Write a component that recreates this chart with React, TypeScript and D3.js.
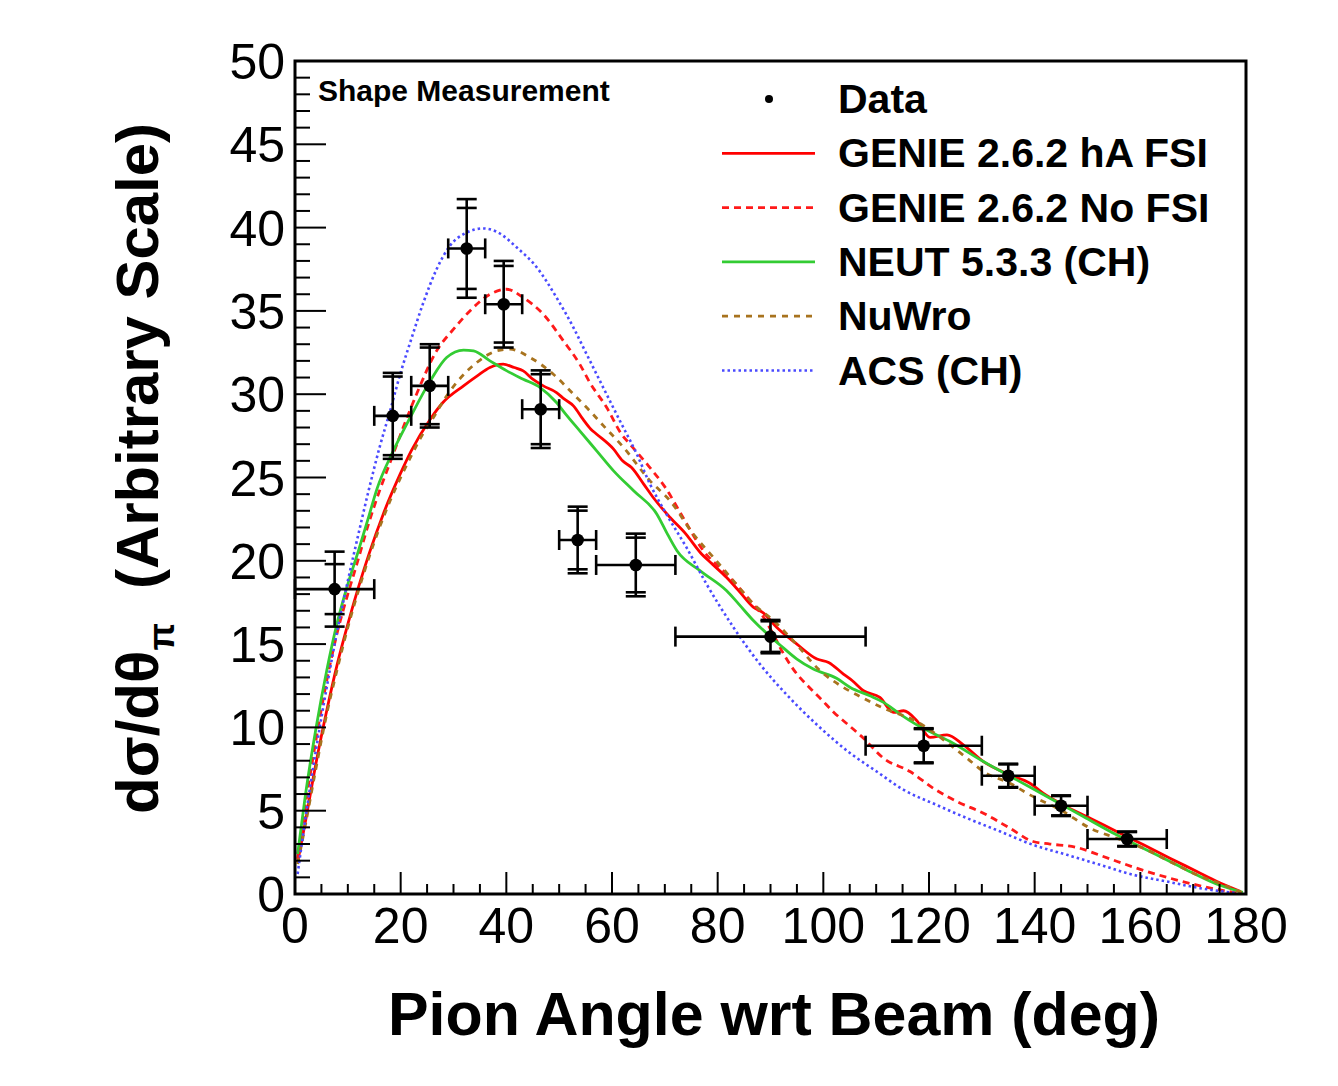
import React from "react";
import * as d3 from "d3";

// Measured pion angle distribution (shape only) with stat and total errors
const binLow = [0, 15, 22, 29, 36, 43, 50, 57, 72, 108, 130, 140, 150];
const binHigh = [15, 22, 29, 36, 43, 50, 57, 72, 108, 130, 140, 150, 165];
const binCenter = [7.5, 18.5, 25.5, 32.5, 39.5, 46.5, 53.5, 64.5, 90, 119, 135, 145, 157.5];
const dataValue = [18.3, 28.7, 30.5, 38.75, 35.4, 29.1, 21.25, 19.75, 15.45, 8.9, 7.1, 5.3, 3.3];
const statErr = [1.5, 2.36, 2.3, 2.43, 2.3, 2.1, 1.76, 1.64, 0.92, 1.0, 0.68, 0.58, 0.42];
const totalErr = [2.25, 2.58, 2.5, 2.96, 2.6, 2.33, 2.0, 1.88, 1.0, 1.05, 0.72, 0.62, 0.45];

// Generator predictions: [angle (deg), dσ/dθ]
const genieHA: [number, number][] = [
  [0.5, 1.9], [2, 4.4], [4, 7.9], [6, 11.0], [8, 13.8], [10, 16.2], [12, 18.4], [14, 20.4],
  [16.7, 22.8], [19.9, 25.2], [22, 26.6], [25.6, 28.5], [28, 29.5], [31.9, 30.5], [34.5, 31.1],
  [36.9, 31.6], [39.4, 31.8], [41.5, 31.6], [43.2, 31.4], [45, 30.9], [47, 30.5], [49.5, 30.1],
  [51, 29.7], [52.7, 29.3], [54.5, 28.5], [56, 27.9], [57.1, 27.6], [60.3, 26.7], [62, 26.0],
  [63.7, 25.6], [66, 24.6], [67.8, 23.8], [71, 22.6], [74, 21.6], [76.7, 20.5], [79, 19.8],
  [81.7, 19.0], [84, 18.2], [86.8, 17.2], [88.5, 16.9], [91.2, 16.0], [95, 15.0], [98.8, 14.1],
  [101, 13.9], [103.8, 13.2], [105.5, 12.8], [107.6, 12.2], [110.7, 11.8], [113.3, 10.9],
  [115.2, 11.0], [117.7, 10.4], [120.2, 9.4], [123.4, 9.55], [126.5, 8.95], [130.3, 7.95],
  [135.3, 7.15], [139.1, 6.65], [141.6, 6.05], [145.4, 5.35], [150.5, 4.55], [155.5, 3.75],
  [160.6, 2.95], [165.6, 2.15], [170.7, 1.35], [174.5, 0.75], [179, 0.15],
];

const genieNoFSI: [number, number][] = [
  [0.5, 2.1], [2, 5.4], [4, 9.3], [6, 12.8], [8, 15.7], [10, 18.0], [11.7, 19.8], [14, 22.3],
  [16, 24.2], [18, 25.9], [20, 27.6], [23, 30.0], [26.8, 32.6], [30, 33.9], [33.1, 35.0],
  [36.9, 36.0], [40.1, 36.3], [43.2, 35.8], [47, 34.8], [50.8, 33.2], [53.9, 31.8], [55.8, 30.7],
  [59, 29.2], [61.8, 27.6], [63.4, 27.0], [66.9, 25.7], [70.3, 24.3], [72.9, 22.9], [77.3, 20.6],
  [81.7, 19.2], [86.2, 17.6], [88.5, 16.7], [90.5, 15.6], [92.5, 14.4], [94.3, 13.5],
  [97.5, 12.35], [99.4, 11.75], [102, 10.9], [105.1, 10.05], [107.6, 9.35], [111.4, 8.15],
  [116.4, 7.35], [120.8, 6.35], [125.3, 5.55], [130.3, 4.85], [135.3, 3.95], [139.7, 3.15],
  [142.9, 3.0], [147.9, 2.8], [153, 2.25], [159.3, 1.55], [165.6, 0.95], [171.9, 0.45],
  [178.5, 0.05],
];

const neut: [number, number][] = [
  [0.5, 2.4], [2, 6.0], [4, 10.0], [6, 13.4], [8, 16.3], [10, 18.6], [12, 20.6], [14, 22.7],
  [15.5, 24.3], [18.6, 26.6], [21.8, 28.6], [25.6, 30.8], [28.7, 32.2], [31.9, 32.65],
  [33.8, 32.6], [36.9, 32.0], [40.1, 31.4], [43.2, 30.9], [46.4, 30.4], [49.5, 29.5], [51, 28.9],
  [53.9, 27.8], [57.1, 26.6], [60.3, 25.4], [64.1, 24.2], [68.5, 22.8], [70.5, 21.6],
  [72.3, 20.6], [76.7, 19.4], [81.7, 18.2], [84, 17.4], [86.8, 16.4], [91.8, 14.95], [95, 14.1],
  [98.1, 13.5], [102.5, 12.95], [105.1, 12.4], [108.8, 11.9], [111.4, 11.5], [114.5, 10.8],
  [117.7, 10.15], [124, 9.15], [130.3, 7.95], [136.6, 6.85], [142.9, 5.75], [149.2, 4.65],
  [155.5, 3.55], [161.8, 2.55], [168.1, 1.55], [174.4, 0.6], [179.4, 0.1],
];

const nuwro: [number, number][] = [
  [0.5, 1.8], [2, 4.2], [4, 7.6], [6, 10.8], [8, 13.5], [10, 16.0], [12, 18.2], [14, 20.2],
  [16, 22.0], [18, 23.6], [20, 25.0], [22, 26.3], [24, 27.5], [26.2, 28.6], [28.5, 29.8],
  [30.6, 30.7], [34.4, 31.9], [38.2, 32.6], [40.7, 32.7], [44.5, 32.2], [48.9, 31.2],
  [52.7, 30.0], [55.8, 29.0], [58.4, 28.1], [62.2, 26.8], [67.2, 24.8], [71, 23.6], [75.4, 21.6],
  [79.2, 20.2], [83, 18.8], [86.8, 17.4], [90.6, 16.4], [94.3, 15.2], [99.4, 13.4],
  [103.8, 12.4], [107, 11.85], [111.4, 11.15], [117.7, 10.35], [124, 8.95], [127.2, 8.15],
  [130.3, 7.35], [135.3, 6.65], [139.1, 5.95], [145.4, 4.95], [150.5, 3.95], [155.5, 3.35],
  [160.6, 2.75], [165.6, 1.95], [170.7, 1.15], [175.7, 0.55], [179.4, 0.05],
];

const acs: [number, number][] = [
  [0.5, 1.2], [2, 4.6], [4, 8.7], [6, 12.4], [8, 15.8], [10, 18.8], [12, 21.6], [14, 24.3],
  [16, 26.8], [18, 29.0], [20, 31.3], [22, 33.3], [24.3, 35.5], [26.8, 37.5], [29.3, 38.9],
  [32.5, 39.7], [35.6, 39.95], [38.2, 39.75], [42, 38.8], [45.8, 37.6], [49.5, 35.8],
  [52.7, 34.0], [55.2, 32.4], [59.6, 29.6], [61.5, 28.4], [64.7, 26.4], [67.2, 24.6],
  [70.3, 22.8], [74.1, 20.8], [77.9, 18.6], [83, 16.0], [88, 13.8], [93.1, 11.95], [99, 10.1],
  [105.1, 8.45], [110.1, 7.35], [115.2, 6.25], [121.4, 5.35], [127.2, 4.55], [133.5, 3.75],
  [139.7, 2.95], [146.1, 2.35], [152.4, 1.75], [158.7, 1.15], [165, 0.75], [171.3, 0.35],
  [178.2, 0.05],
];

const xTicks = [0, 20, 40, 60, 80, 100, 120, 140, 160, 180];
const yTicks = [0, 5, 10, 15, 20, 25, 30, 35, 40, 45, 50];

const legendLabels = [
  "Data",
  "GENIE 2.6.2 hA FSI",
  "GENIE 2.6.2 No FSI",
  "NEUT 5.3.3 (CH)",
  "NuWro",
  "ACS (CH)",
];

const FONT = "'Liberation Sans', Arial, Helvetica, sans-serif";

const W = 1338;
const H = 1086;
const left = 295;
const right = 1246;
const top = 61;
const bottom = 894;

export default function App() {
  const x = d3.scaleLinear().domain([0, 180]).range([left, right]);
  const y = d3.scaleLinear().domain([0, 50]).range([bottom, top]);

  const line = d3
    .line<[number, number]>()
    .x((d) => x(d[0]))
    .y((d) => y(d[1]))
    .curve(d3.curveMonotoneX);

  const series = [
    { pts: genieHA, color: "#ff0000", dash: undefined as string | undefined, width: 2.8 },
    { pts: genieNoFSI, color: "#ff1a1a", dash: "7 5", width: 2.8 },
    { pts: neut, color: "#33cc33", dash: undefined, width: 2.8 },
    { pts: nuwro, color: "#a8731e", dash: "6 6", width: 2.8 },
    { pts: acs, color: "#4a4aff", dash: "2.5 3", width: 2.6 },
  ];

  const xMinor = d3.range(0, 181, 5).filter((v) => v % 20 !== 0);
  const yMinor = d3.range(0, 51, 1).filter((v) => v % 5 !== 0);

  const capHalf = 10;
  const legendRowY = (i: number) => 113 + i * 54.3;

  return (
    <svg
      width={W}
      height={H}
      style={{ position: "absolute", left: 0, top: 0, background: "#fff" }}
      fontFamily={FONT}
    >
      <rect x={0} y={0} width={W} height={H} fill="#fff" />

      {/* model curves */}
      <g fill="none">
        {series.map((s, i) => (
          <path
            key={i}
            d={line(s.pts) || ""}
            stroke={s.color}
            strokeWidth={s.width}
            strokeDasharray={s.dash}
          />
        ))}
      </g>

      {/* data points with error bars */}
      <g stroke="#000" strokeWidth={2.6}>
        {dataValue.map((v, i) => {
          const cx = x(binCenter[i]);
          const cy = y(v);
          const xl = x(binLow[i]);
          const xh = x(binHigh[i]);
          return (
            <g key={i}>
              <line x1={xl} x2={xh} y1={cy} y2={cy} />
              <line x1={xl} x2={xl} y1={cy - capHalf} y2={cy + capHalf} />
              <line x1={xh} x2={xh} y1={cy - capHalf} y2={cy + capHalf} />
              <line x1={cx} x2={cx} y1={y(v + totalErr[i])} y2={y(v - totalErr[i])} />
              {[v + statErr[i], v - statErr[i], v + totalErr[i], v - totalErr[i]].map((e, k) => (
                <line key={k} x1={cx - capHalf} x2={cx + capHalf} y1={y(e)} y2={y(e)} />
              ))}
              <circle cx={cx} cy={cy} r={6.3} fill="#000" stroke="none" />
            </g>
          );
        })}
      </g>

      {/* ticks */}
      <g stroke="#000" strokeWidth={2}>
        {xTicks.map((t) => (
          <line key={"xM" + t} x1={x(t)} x2={x(t)} y1={bottom} y2={bottom - 22} />
        ))}
        {xMinor.map((t) => (
          <line key={"xm" + t} x1={x(t)} x2={x(t)} y1={bottom} y2={bottom - 10} />
        ))}
        {yTicks.map((t) => (
          <line key={"yM" + t} x1={left} x2={left + 31} y1={y(t)} y2={y(t)} />
        ))}
        {yMinor.map((t) => (
          <line key={"ym" + t} x1={left} x2={left + 15} y1={y(t)} y2={y(t)} />
        ))}
      </g>

      {/* frame */}
      <rect
        x={left}
        y={top}
        width={right - left}
        height={bottom - top}
        fill="none"
        stroke="#000"
        strokeWidth={3}
      />

      {/* tick labels */}
      <g fontSize={50} fill="#000">
        {xTicks.map((t) => (
          <text key={"xl" + t} x={x(t)} y={943} textAnchor="middle">
            {t}
          </text>
        ))}
        {yTicks.map((t) => (
          <text key={"yl" + t} x={285} y={y(t) + 18} textAnchor="end">
            {t}
          </text>
        ))}
      </g>

      {/* axis titles */}
      <text
        x={774}
        y={1035}
        textAnchor="middle"
        fontSize={61}
        fontWeight="bold"
        textLength={772}
        lengthAdjust="spacingAndGlyphs"
      >
        Pion Angle wrt Beam (deg)
      </text>
      <text
        transform="translate(158, 814) rotate(-90)"
        fontSize={60}
        fontWeight="bold"
      >
        <tspan>dσ/dθ</tspan>
        <tspan fontSize={36} dy={16}>π</tspan>
        <tspan dy={-16} dx={34} textLength={466} lengthAdjust="spacingAndGlyphs">
          (Arbitrary Scale)
        </tspan>
      </text>

      <text x={318} y={101} fontSize={30} fontWeight="bold">
        Shape Measurement
      </text>

      {/* legend */}
      <g fontSize={41} fontWeight="bold">
        {legendLabels.map((lab, i) => (
          <text key={lab} x={838} y={legendRowY(i)}>
            {lab}
          </text>
        ))}
      </g>
      <circle cx={769} cy={99} r={4} fill="#000" />
      {series.map((s, i) => {
        const ly = legendRowY(i + 1) - 14;
        return (
          <line
            key={"lg" + i}
            x1={722}
            x2={815}
            y1={ly}
            y2={ly}
            stroke={s.color}
            strokeWidth={s.width}
            strokeDasharray={s.dash}
          />
        );
      })}
    </svg>
  );
}
